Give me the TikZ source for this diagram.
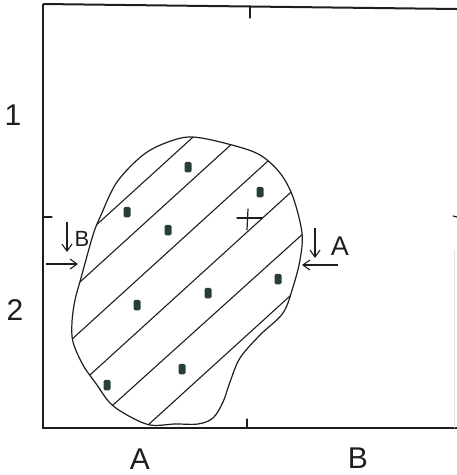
\documentclass[tikz,border=0pt]{standalone}
\usepackage{fontspec}
\setmainfont{Liberation Sans}
\usetikzlibrary{arrows.meta}
\definecolor{ink}{RGB}{30,30,30}
\definecolor{dotc}{RGB}{40,62,58}
\tikzset{
  pen/.style={draw=ink, line width=1.2pt, line cap=round, line join=round},
  frame/.style={draw=ink, line width=2pt},
  hatch/.style={draw=ink, line width=1.1pt},
  arr/.style={draw=ink, line width=1.1pt, -{Straight Barb[length=7pt,width=10pt]}},
  lbl/.style={font=\fontsize{30}{30}\selectfont, text=ink, inner sep=0pt},
  dotmark/.style={fill=dotc, draw=none, rounded corners=1.5pt, minimum width=7pt, minimum height=10.5pt, inner sep=0pt, rectangle}
}
\begin{document}
\begin{tikzpicture}[x=1pt,y=-1pt]
\useasboundingbox (0,0) rectangle (457,475);
% frame
\draw[frame] (43,4) -- (43,428) -- (457,428);
\draw[frame] (43,4) -- (457,9);
\draw[draw=ink!12, line width=0.6pt] (454,250) -- (454,428);
% ticks
\draw[pen] (250,6) -- (250,18);
\draw[pen] (43,217) -- (52,217);
\draw[pen] (247,419) -- (247,428);
\draw[pen] (453,216) -- (457,217);
% blob
\def\blob{plot[smooth cycle, tension=0.55] coordinates {
 (193,137) (232,145) (260,155) (280,173) (293,197) (302,233) (300,260)
 (293,287) (283,313) (260,335) (240,358) (230,382) (223,402) (213,418)
 (198,424) (175,424) (150,425) (127,415) (110,403) (97,385) (83,365)
 (73,342) (72,322) (75,300) (81,278) (93,235) (101,215) (117,182) (143,155) (168,142)}}
\begin{scope}
\clip \blob;
\draw[hatch] (61.7,256.5) -- (233.3,100.5);
\draw[hatch] (40,318.3) -- (271.7,107.7);
\draw[hatch] (33.3,374.3) -- (310,122.8);
\draw[hatch] (50,411.3) -- (330,156.7);
\draw[hatch] (75,439.3) -- (341.7,198.9);
\draw[hatch] (108,461.4) -- (331.7,258.1);
\end{scope}
\draw[pen] \blob;
% dots
\foreach \p/\r [count=\i] in {188/167, 127/212, 168/230, 260/192, 137/305, 208/293, 278/279, 182/369, 107/385}
  \node[dotmark] (d\i) at (\p,\r) {};
% cross
\draw[pen] (237,218) -- (262,218);
\draw[pen] (248,209) -- (247,230);
% arrows B
\coordinate (bv1) at (67,222);
\coordinate (bv2) at (67,252);
\draw[arr] (bv1) -- (bv2);
\node[lbl, font=\fontsize{22}{22}\selectfont] (lb) at (82,239) {B};
\coordinate (bh1) at (46,264);
\coordinate (bh2) at (78,264);
\draw[arr] (bh1) -- (bh2);
% arrows A
\coordinate (av1) at (315,228);
\coordinate (av2) at (315,258);
\draw[arr] (av1) -- (av2);
\node[lbl, font=\fontsize{27}{27}\selectfont] (la) at (340,246) {A};
\coordinate (ah1) at (338,265);
\coordinate (ah2) at (302,265);
\draw[arr] (ah1) -- (ah2);
% labels
\node[lbl] (l1) at (13,115) {1};
\node[lbl] (l2) at (15,310) {2};
\node[lbl, anchor=base] (lA) at (140,469) {A};
\node[lbl, anchor=base] (lB) at (358,468) {B};
\end{tikzpicture}
\end{document}
